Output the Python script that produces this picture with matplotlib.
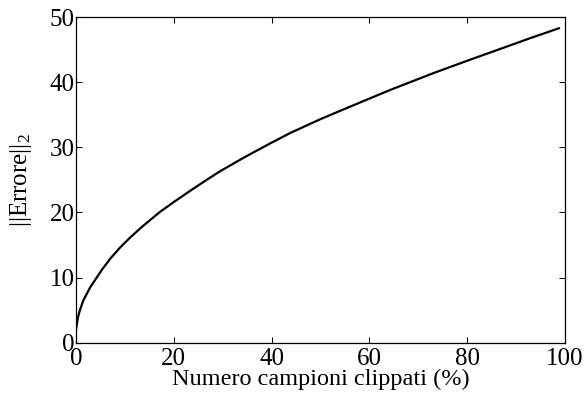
import matplotlib
matplotlib.use("Agg")
import matplotlib.pyplot as plt

# Percentage of clipped samples vs. L2 norm of the reconstruction error
clip_pct = [0, 0.4, 0.8, 1.5, 2.9, 5.3, 7.0, 9.0, 11.0, 13.5, 17.2, 20.0, 23.3,
            26.5, 29.4, 34.5, 39.7, 43.8, 49.9, 54.0, 59.4, 64.2, 73.1, 80.0,
            86.7, 93.0, 98.8]
err_norm = [2.0, 3.9, 5.0, 6.5, 8.5, 11.2, 12.9, 14.6, 16.1, 17.8, 20.1, 21.6, 23.3,
            24.9, 26.3, 28.5, 30.6, 32.2, 34.3, 35.6, 37.3, 38.8, 41.4, 43.3,
            45.1, 46.8, 48.3]

x_ticks = [0, 20, 40, 60, 80, 100]
y_ticks = [0, 10, 20, 30, 40, 50]

plt.rcParams['font.family'] = ['Liberation Serif', 'DejaVu Serif']
plt.rcParams['mathtext.fontset'] = 'custom'
plt.rcParams['mathtext.rm'] = 'Liberation Serif'
plt.rcParams['mathtext.it'] = 'Liberation Serif:italic'

fig = plt.figure(figsize=(5.86, 3.98), dpi=100)
ax = fig.add_axes([0.1297, 0.139, 0.8345, 0.818])

ax.plot(clip_pct, err_norm, color='black', linewidth=1.6,
        solid_capstyle='round', solid_joinstyle='round')

ax.set_xlim(0, 100)
ax.set_ylim(0, 50)
ax.set_xticks(x_ticks)
ax.set_yticks(y_ticks)
ax.tick_params(direction='in', length=4, width=0.75, top=True, right=True,
               labelsize=18)
ax.tick_params(axis='x', pad=4)
ax.tick_params(axis='y', pad=1)
for s in ax.spines.values():
    s.set_linewidth(0.9)

ax.set_xlabel('Numero campioni clippati (%)', fontsize=17.5, labelpad=-1)
ax.set_ylabel(r'||Errore||$_{\mathrm{2}}$', fontsize=18, labelpad=11)

fig.savefig('out.png', dpi=100)
